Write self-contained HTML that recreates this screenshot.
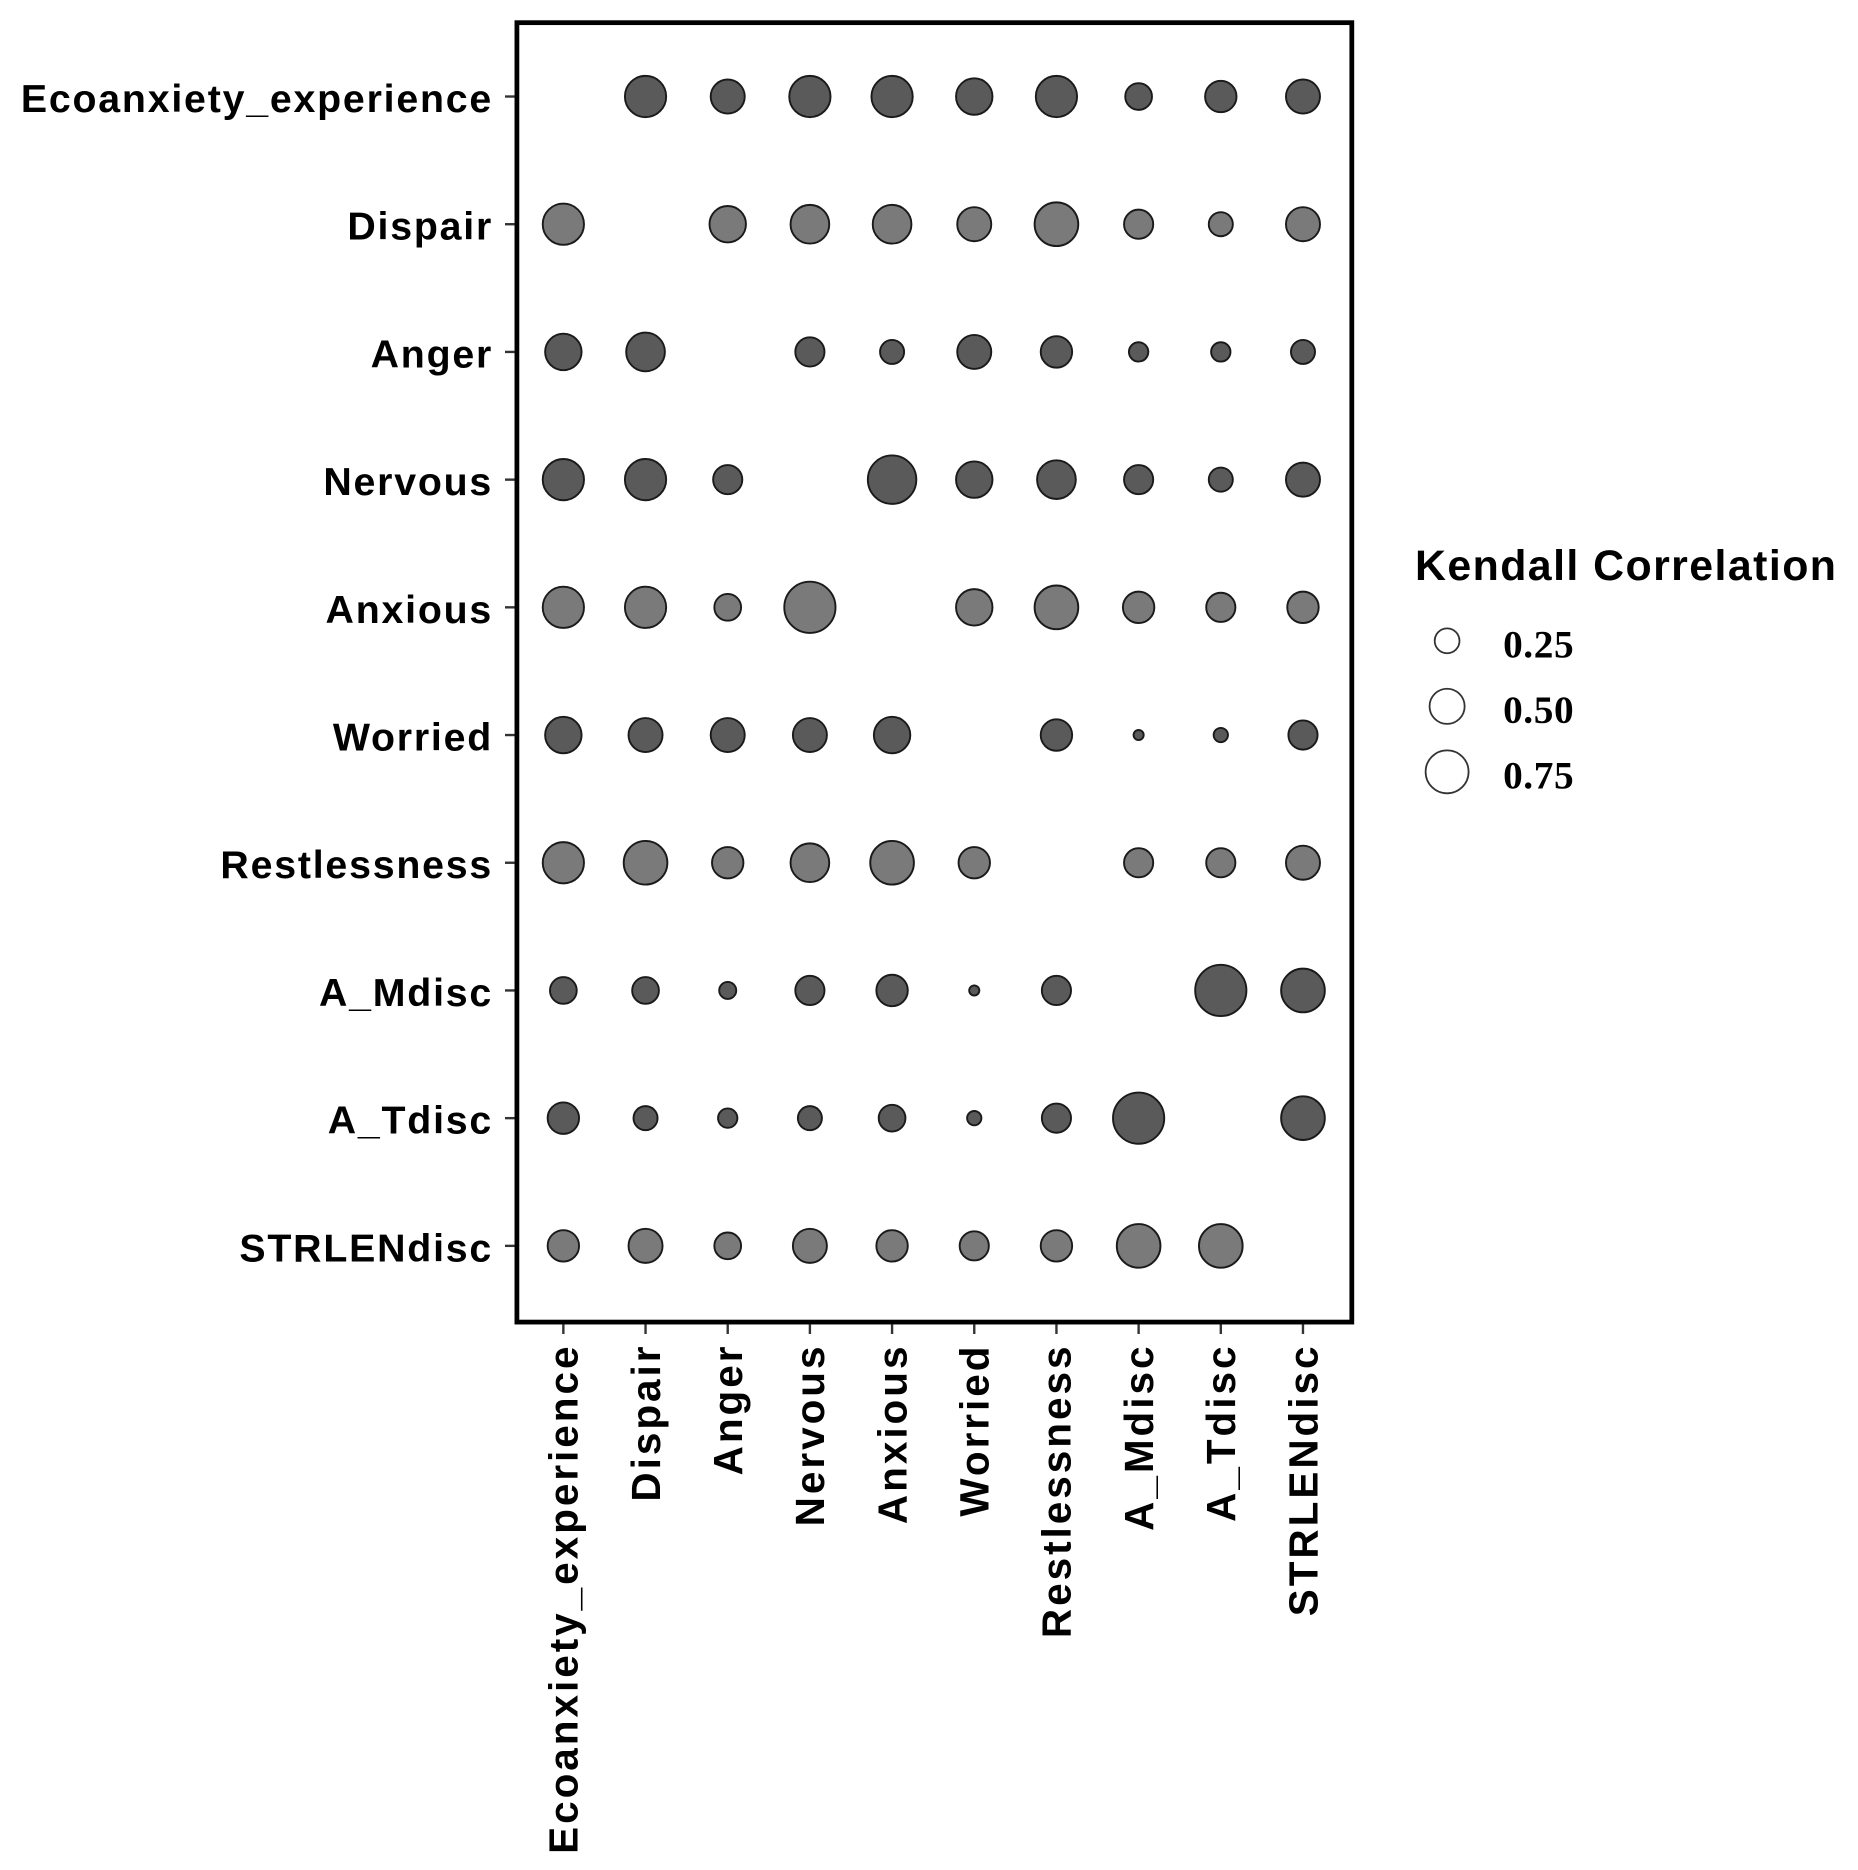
<!DOCTYPE html>
<html><head><meta charset="utf-8"><style>
html,body{margin:0;padding:0;background:#fff;}
svg{display:block;}
.lab{font-family:"Liberation Sans",sans-serif;font-weight:bold;font-size:33px;letter-spacing:1.5px;fill:#000;}
.xlab{font-family:"Liberation Sans",sans-serif;font-weight:bold;font-size:34px;letter-spacing:2.5px;fill:#000;}
.leg{font-family:"Liberation Serif",serif;font-weight:bold;font-size:33px;letter-spacing:0.5px;fill:#000;}
.ttl{font-family:"Liberation Sans",sans-serif;font-weight:bold;font-size:36px;letter-spacing:1.2px;fill:#000;}
</style></head><body>
<svg id="chart" width="1858" height="1870" viewBox="0 0 1560 1570" xmlns="http://www.w3.org/2000/svg">
<g id="plot"></g>
</svg>
<script>
const variables = ["Ecoanxiety_experience","Dispair","Anger","Nervous","Anxious","Worried","Restlessness","A_Mdisc","A_Tdisc","STRLENdisc"];
const row0 = [null,0.50,0.34,0.50,0.50,0.39,0.50,0.21,0.29,0.34];
const row1 = [0.50,null,0.39,0.44,0.44,0.34,0.56,0.25,0.17,0.34];
const row2 = [0.39,0.44,null,0.25,0.17,0.34,0.29,0.11,0.11,0.17];
const row3 = [0.50,0.50,0.25,null,0.69,0.39,0.44,0.25,0.17,0.34];
const row4 = [0.50,0.50,0.21,0.77,null,0.39,0.56,0.29,0.25,0.29];
const row5 = [0.39,0.34,0.34,0.34,0.39,null,0.29,0.03,0.06,0.25];
const row6 = [0.50,0.56,0.29,0.44,0.56,0.29,null,0.25,0.25,0.34];
const row7 = [0.21,0.21,0.085,0.25,0.29,0.03,0.25,null,0.77,0.56];
const row8 = [0.29,0.17,0.11,0.17,0.21,0.06,0.25,0.77,null,0.56];
const row9 = [0.29,0.34,0.21,0.34,0.29,0.25,0.29,0.56,0.56,null];
const rowShade = ["dark","light","dark","dark","light","dark","light","dark","dark","light"];
const legendValues = [0.25,0.50,0.75];
const legendLabels = ["0.25","0.50","0.75"];

const rows=[row0,row1,row2,row3,row4,row5,row6,row7,row8,row9];
const NS="http://www.w3.org/2000/svg";
const g=document.getElementById('plot');
const P={x0:434,x1:1135,y0:19,y1:1110};
function xs(i){return 473+i*(1094-473)/9;}
function ys(j){return 81+j*(1046-81)/9;}
function rs(v){return 24.5*Math.sqrt(v);}
function mk(t,a){const e=document.createElementNS(NS,t);for(const k in a)e.setAttribute(k,a[k]);g.appendChild(e);return e;}

const frame=mk('rect',{x:P.x0,y:P.y0,width:P.x1-P.x0,height:P.y1-P.y0,fill:'none',stroke:'#000','stroke-width':4});



variables.forEach((v,j)=>{
  const t=mk('line',{x1:P.x0-10,x2:P.x0-2,y1:ys(j),y2:ys(j),stroke:'#333','stroke-width':2});
  
  
  const l=mk('text',{x:P.x0-20,y:ys(j)+13,'text-anchor':'end',class:'lab'});
  l.textContent=v;
  
  
});
variables.forEach((v,i)=>{
  const t=mk('line',{x1:xs(i),x2:xs(i),y1:P.y1+2,y2:P.y1+10,stroke:'#333','stroke-width':2});
  
  
  const x=xs(i)+12,y=P.y1+18;
  const l=mk('text',{x:x,y:y,'text-anchor':'end',class:'xlab',transform:`rotate(-90 ${x} ${y})`});
  l.textContent=v;
  
  
});
rows.forEach((r,j)=>{
  r.forEach((val,i)=>{
    if(val==null)return;
    const c=mk('circle',{cx:xs(i),cy:ys(j),r:rs(val),fill:rowShade[j]==='dark'?'#5a5a5a':'#7a7a7a',stroke:'#1a1a1a','stroke-width':1.6});
    
    
  });
});
const tt=mk('text',{x:1188,y:487,class:'ttl'});
tt.textContent='Kendall Correlation';


legendValues.forEach((v,k)=>{
  const cy=538+k*55;
  const c=mk('circle',{cx:1215,cy:cy,r:rs(v)*0.85,fill:'#fff',stroke:'#333','stroke-width':1.5});
  
  
  const l=mk('text',{x:1262,y:cy+14,class:'leg'});
  l.textContent=legendLabels[k];
  
  
});
</script>
</body></html>
